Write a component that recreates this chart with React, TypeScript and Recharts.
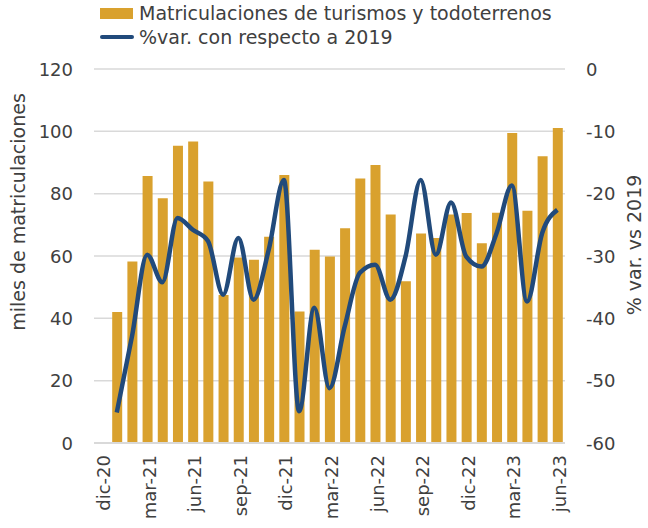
import React from "react";
import {
  ComposedChart,
  Bar,
  Line,
  XAxis,
  YAxis,
  CartesianGrid,
} from "recharts";

const months = [
  "dic-20", "ene-21", "feb-21", "mar-21", "abr-21", "may-21", "jun-21", "jul-21",
  "ago-21", "sep-21", "oct-21", "nov-21", "dic-21", "ene-22", "feb-22", "mar-22",
  "abr-22", "may-22", "jun-22", "jul-22", "ago-22", "sep-22", "oct-22", "nov-22",
  "dic-22", "ene-23", "feb-23", "mar-23", "abr-23", "may-23", "jun-23",
];

// miles de matriculaciones
const matriculaciones = [
  null, 42, 58.2, 85.7, 78.5, 95.4, 96.7, 83.9, 47.5, 59.5, 58.8, 66.2, 86.0,
  42.2, 62.0, 59.8, 68.9, 84.9, 89.2, 73.3, 51.9, 67.2, 65.8, 73.3, 73.8,
  64.1, 73.9, 99.5, 74.5, 92.0, 101.1,
];

// % var. con respecto a 2019
const variacion = [
  null, -55.1, -42.9, -29.8, -34.2, -23.9, -25.8, -27.6, -36.2, -27.1, -37, -29,
  -17.8, -54.9, -38.3, -51.2, -41.3, -32.7, -31.4, -37, -30.1, -17.8, -29.8,
  -21.4, -30.1, -31.7, -26.3, -18.7, -37.3, -26.3, -22.6,
];

const leftTicks = [0, 20, 40, 60, 80, 100, 120];
const rightTicks = [-60, -50, -40, -30, -20, -10, 0];

const data = months.map((m, i) => ({
  mes: m,
  matriculaciones: matriculaciones[i],
  variacion: variacion[i],
}));

const FONT = "'DejaVu Sans', sans-serif";
const TEXT = "#404040";
const BAR = "#D9A12E";
const LINE = "#214A7B";

const LeftTick = ({ y, payload }: any) => (
  <text x={73} y={y} textAnchor="end" dominantBaseline="central" fontSize={18} fill={TEXT} fontFamily={FONT}>
    {payload.value}
  </text>
);

const RightTick = ({ y, payload }: any) => (
  <text x={586} y={y} textAnchor="start" dominantBaseline="central" fontSize={18} fill={TEXT} fontFamily={FONT}>
    {payload.value}
  </text>
);

const BottomTick = ({ x, payload }: any) => (
  <text
    transform={`translate(${x + 2},455) rotate(-90)`}
    textAnchor="end"
    dominantBaseline="central"
    fontSize={18}
    fill={TEXT}
    fontFamily={FONT}
  >
    {payload.value}
  </text>
);

export default function App() {
  return (
    <div style={{ position: "absolute", left: 0, top: 0, width: 648, height: 528, background: "#fff" }}>
      <div style={{ position: "absolute", left: 100, top: 1, fontFamily: FONT, fontSize: 19, color: TEXT, lineHeight: "24px" }}>
        <div style={{ display: "flex", alignItems: "center" }}>
          <span style={{ display: "inline-block", width: 33, height: 11, background: BAR, marginRight: 6 }} />
          Matriculaciones de turismos y todoterrenos
        </div>
        <div style={{ display: "flex", alignItems: "center" }}>
          <span style={{ display: "inline-block", width: 34, height: 4, background: LINE, marginRight: 5, borderRadius: 2 }} />
          %var. con respecto a 2019
        </div>
      </div>
      <ComposedChart
        width={648}
        height={528}
        data={data}
        margin={{ top: 69, right: 0, bottom: 0, left: 0 }}
        barSize={10}
      >
        <CartesianGrid yAxisId="left" vertical={false} stroke="#d9d9d9" strokeWidth={1.5} />
        <XAxis
          dataKey="mes"
          height={85}
          interval={2}
          tickLine={false}
          axisLine={{ stroke: "#d9d9d9", strokeWidth: 2 }}
          tick={<BottomTick />}
        />
        <YAxis
          yAxisId="left"
          width={94}
          domain={[0, 120]}
          ticks={leftTicks}
          tickLine={false}
          axisLine={false}
          tick={<LeftTick />}
          label={{
            content: () => (
              <text transform="translate(18,212) rotate(-90)" textAnchor="middle" dominantBaseline="central" fontSize={19} fill={TEXT} fontFamily={FONT}>
                miles de matriculaciones
              </text>
            ),
          }}
        />
        <YAxis
          yAxisId="right"
          orientation="right"
          width={83}
          domain={[-60, 0]}
          ticks={rightTicks}
          tickLine={false}
          axisLine={false}
          tick={<RightTick />}
          label={{
            content: () => (
              <text transform="translate(634,245) rotate(-90)" textAnchor="middle" dominantBaseline="central" fontSize={19} fill={TEXT} fontFamily={FONT}>
                % var. vs 2019
              </text>
            ),
          }}
        />
        <Bar yAxisId="left" dataKey="matriculaciones" fill={BAR} isAnimationActive={false} />
        <Line
          yAxisId="right"
          type="monotone"
          dataKey="variacion"
          stroke={LINE}
          strokeWidth={4.5}
          dot={false}
          connectNulls={false}
          isAnimationActive={false}
        />
      </ComposedChart>
    </div>
  );
}
